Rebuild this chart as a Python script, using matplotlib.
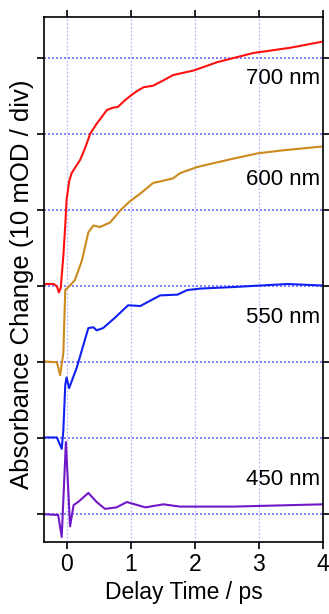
import matplotlib.pyplot as plt
import numpy as np

plt.rcParams['font.family'] = ['Liberation Sans', 'DejaVu Sans']

# 700 nm trace (offset 3 divisions)
x700 = [-0.35, -0.2, -0.15, -0.12, -0.09, -0.05, -0.02, 0.0, 0.04, 0.08, 0.14, 0.21, 0.29, 0.37, 0.47,
        0.63, 0.72, 0.80, 0.90, 1.0, 1.1, 1.2, 1.35, 1.51, 1.66, 1.98, 2.35, 2.91, 3.49, 3.99]
y700 = [3.03, 3.03, 3.0, 2.92, 2.98, 3.4, 3.8, 4.13, 4.38, 4.49, 4.57, 4.66, 4.82, 5.01, 5.14,
        5.32, 5.35, 5.36, 5.44, 5.51, 5.57, 5.62, 5.64, 5.71, 5.78, 5.84, 5.95, 6.07, 6.14, 6.22]

# 600 nm trace (offset 2 divisions)
x600 = [-0.35, -0.15, -0.10, -0.05, -0.02, 0.03, 0.13, 0.24, 0.34, 0.42, 0.52, 0.68, 0.84,
        0.99, 1.15, 1.35, 1.51, 1.66, 1.77, 2.04, 2.29, 2.60, 2.98, 3.38, 3.99]
y600 = [2.01, 2.0, 1.83, 2.12, 2.95, 2.99, 3.08, 3.34, 3.71, 3.80, 3.78, 3.84, 4.0,
        4.12, 4.22, 4.36, 4.39, 4.42, 4.49, 4.57, 4.62, 4.68, 4.75, 4.79, 4.84]

# 550 nm trace (offset 1 division)
x550 = [-0.35, -0.15, -0.075, -0.05, -0.02, 0.0, 0.04, 0.16, 0.34, 0.42, 0.47, 0.57, 0.76,
        0.96, 1.15, 1.26, 1.46, 1.73, 1.88, 2.09, 2.60, 3.02, 3.45, 3.99]
y550 = [1.01, 1.01, 0.86, 1.1, 1.70, 1.80, 1.66, 1.93, 2.45, 2.46, 2.42, 2.45, 2.59,
        2.75, 2.74, 2.79, 2.88, 2.89, 2.95, 2.97, 2.99, 3.01, 3.03, 3.01]

# 450 nm trace (no offset)
x450 = [-0.35, -0.13, -0.075, -0.01, 0.055, 0.11, 0.18, 0.34, 0.47, 0.60, 0.78, 0.94,
        1.23, 1.51, 1.77, 2.09, 2.60, 3.99]
y450 = [0.0, -0.01, -0.30, 0.95, -0.16, 0.12, 0.16, 0.28, 0.16, 0.07, 0.09, 0.16,
        0.09, 0.13, 0.10, 0.10, 0.10, 0.13]

labels = ['700 nm', '600 nm', '550 nm', '450 nm']
label_y = [5.74, 4.40, 2.59, 0.46]

fig = plt.figure(figsize=(3.29, 6.14), dpi=100)
ax = fig.add_axes([0.134, 0.118, 0.848, 0.855])

ax.plot(x700, y700, color='#ff1010', lw=1.5)
ax.plot(x600, y600, color='#cc8a1c', lw=1.5)
ax.plot(x550, y550, color='#1020f0', lw=1.5)
ax.plot(x450, y450, color='#7018c8', lw=1.5)

for lab, ly in zip(labels, label_y):
    ax.text(3.95, ly, lab, ha='right', va='center', fontsize=16)

ax.set_xlim(-0.35, 4.0)
ax.set_ylim(-0.36, 6.55)
ax.set_xticks([0, 1, 2, 3, 4])
ax.set_yticks(range(7))
ax.set_yticklabels([])

for yv in range(7):
    ax.axhline(yv, color='#6a6aff', lw=1.2, ls=(0, (1.2, 1.2)), zorder=0)
for xv in range(5):
    ax.axvline(xv, color='#b8b8ff', lw=0.9, ls=(0, (1.5, 1.5)), zorder=0)

ax.tick_params(direction='out', length=5, width=1.2, top=True, right=True,
               labelsize=16.5, pad=3)
for s in ax.spines.values():
    s.set_linewidth(1.2)

ax.set_xlabel('Delay Time / ps', fontsize=16.5, labelpad=4)
ax.set_ylabel('Absorbance Change (10 mOD / div)', fontsize=18.5)
ax.yaxis.set_label_coords(-0.035, 0.49)

fig.savefig('out.png', dpi=100)
